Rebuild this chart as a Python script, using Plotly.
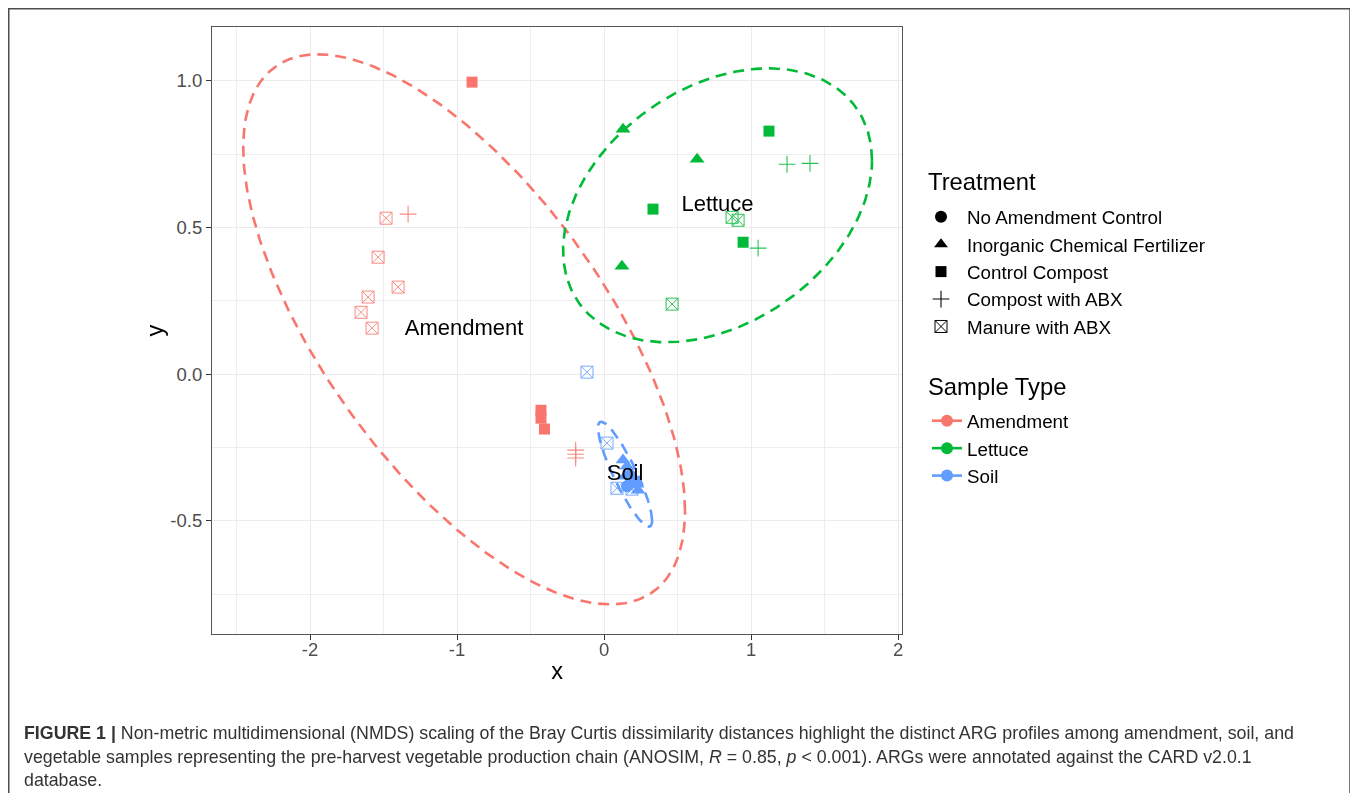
import numpy as np
import plotly.graph_objects as go

# ---------------- data ----------------
treatments = ["No Amendment Control", "Inorganic Chemical Fertilizer",
              "Control Compost", "Compost with ABX", "Manure with ABX"]
sample_types = ["Amendment", "Lettuce", "Soil"]

# Amendment samples
amend_treat = ["Control Compost", "Control Compost", "Control Compost", "Control Compost",
               "Compost with ABX", "Compost with ABX", "Compost with ABX", "Compost with ABX",
               "Manure with ABX", "Manure with ABX", "Manure with ABX",
               "Manure with ABX", "Manure with ABX", "Manure with ABX"]
amend_x = [-0.898, -0.429, -0.429, -0.405,
           -1.333, -0.193, -0.193, -0.193,
           -1.483, -1.537, -1.401, -1.605, -1.653, -1.578]
amend_y = [0.996, -0.123, -0.150, -0.187,
           0.546, -0.259, -0.273, -0.286,
           0.532, 0.399, 0.297, 0.263, 0.211, 0.157]

# Lettuce samples
lettuce_treat = ["Inorganic Chemical Fertilizer", "Inorganic Chemical Fertilizer", "Inorganic Chemical Fertilizer",
                 "Control Compost", "Control Compost", "Control Compost",
                 "Compost with ABX", "Compost with ABX", "Compost with ABX",
                 "Manure with ABX", "Manure with ABX", "Manure with ABX"]
lettuce_x = [0.129, 0.633, 0.122,
             1.122, 0.333, 0.946,
             1.245, 1.401, 1.048,
             0.871, 0.912, 0.463]
lettuce_y = [0.835, 0.733, 0.368,
             0.829, 0.563, 0.450,
             0.716, 0.719, 0.430,
             0.535, 0.525, 0.239]

# Soil samples
soil_treat = ["No Amendment Control", "No Amendment Control",
              "Inorganic Chemical Fertilizer", "Inorganic Chemical Fertilizer",
              "Inorganic Chemical Fertilizer", "Inorganic Chemical Fertilizer",
              "Inorganic Chemical Fertilizer", "Inorganic Chemical Fertilizer",
              "Inorganic Chemical Fertilizer", "Inorganic Chemical Fertilizer",
              "Manure with ABX", "Manure with ABX", "Manure with ABX", "Manure with ABX"]
soil_x = [0.184, 0.156,
          0.129, 0.156, 0.177, 0.143, 0.204, 0.224, 0.170, 0.231,
          -0.116, 0.020, 0.088, 0.190]
soil_y = [-0.361, -0.382,
          -0.293, -0.314, -0.334, -0.348, -0.355, -0.375, -0.378, -0.396,
          0.007, -0.235, -0.389, -0.392]

# 95% ellipse parameters per sample type: centre, x/y half-extent, correlation
ell_cx = [-0.952, 0.772, 0.143]
ell_cy = [0.153, 0.576, -0.341]
ell_sx = [1.503, 1.051, 0.184]
ell_sy = [0.938, 0.467, 0.179]
ell_r = [-0.661, 0.33, -0.883]

x_ticks = [-2, -1, 0, 1, 2]
x_ticktext = ["-2", "-1", "0", "1", "2"]
y_ticks = [-0.5, 0.0, 0.5, 1.0]
y_ticktext = ["-0.5", "0.0", "0.5", "1.0"]

caption_lines = [
    "<b>FIGURE 1 |</b> Non-metric multidimensional (NMDS) scaling of the Bray Curtis dissimilarity distances highlight the distinct ARG profiles among amendment, soil, and",
    "vegetable samples representing the pre-harvest vegetable production chain (ANOSIM, <i>R</i> = 0.85, <i>p</i> &lt; 0.001). ARGs were annotated against the CARD v2.0.1",
    "database.",
]

# ---------------- styling ----------------
FONT = "Liberation Sans, Arial, Helvetica, sans-serif"
colors = {"Amendment": "#F8766D", "Lettuce": "#00BA38", "Soil": "#619CFF"}
symbols = {"No Amendment Control": "circle",
           "Inorganic Chemical Fertilizer": "triangle-up",
           "Control Compost": "square",
           "Compost with ABX": "cross-thin-open",
           "Manure with ABX": "square-x-open"}
sizes = {"No Amendment Control": 12, "Inorganic Chemical Fertilizer": 13,
         "Control Compost": 11, "Compost with ABX": 12, "Manure with ABX": 12}
lwidths = {"No Amendment Control": 0, "Inorganic Chemical Fertilizer": 0,
           "Control Compost": 0, "Compost with ABX": 1.1, "Manure with ABX": 1}

OFF = 8  # page body margin
W, H = 1358 - OFF, 793 - OFF
ML, MR, MT, MB = 212 - OFF, 1358 - 902, 27 - OFF, 793 - 634
PW, PH = W - ML - MR, H - MT - MB


def sx_(px):  # screen px -> paper x
    return (px - OFF - ML) / PW


def sy_(py):  # screen px -> paper y
    return (H - MB - (py - OFF)) / PH


fig = go.Figure()

groups = [("Amendment", amend_treat, amend_x, amend_y),
          ("Lettuce", lettuce_treat, lettuce_x, lettuce_y),
          ("Soil", soil_treat, soil_x, soil_y)]

# points
for st, tr, xs, ys in groups:
    for t in treatments:
        idx = [i for i, v in enumerate(tr) if v == t]
        if not idx:
            continue
        open_sym = symbols[t].endswith("open")
        fig.add_trace(go.Scatter(
            x=[xs[i] for i in idx], y=[ys[i] for i in idx], mode="markers",
            marker=dict(symbol=symbols[t], size=sizes[t], color=colors[st],
                        line=dict(width=lwidths[t], color=colors[st])),
            opacity=0.85 if open_sym else 1.0,
            showlegend=False, hoverinfo="skip"))

# ellipses
t = np.linspace(0, 2 * np.pi, 300)
for k, st in enumerate(sample_types):
    ex = ell_cx[k] + ell_sx[k] * np.cos(t)
    ey = ell_cy[k] + ell_sy[k] * (ell_r[k] * np.cos(t) + np.sqrt(1 - ell_r[k] ** 2) * np.sin(t))
    fig.add_trace(go.Scatter(x=ex, y=ey, mode="lines",
                             line=dict(color=colors[st], width=2.6, dash="11px,7px"),
                             showlegend=False, hoverinfo="skip"))

# group labels at ellipse centres
fig.add_trace(go.Scatter(x=ell_cx, y=ell_cy, mode="text", text=sample_types,
                         textfont=dict(family=FONT, size=22, color="black"),
                         textposition="middle center", showlegend=False, hoverinfo="skip"))

# legend: Treatment
for t_ in treatments:
    fig.add_trace(go.Scatter(
        x=[None], y=[None], mode="markers", name=t_, legend="legend",
        marker=dict(symbol=symbols[t_], size=min(sizes[t_], 12), color="black",
                    line=dict(width=lwidths[t_], color="black"))))

# legend: Sample Type
for st in sample_types:
    fig.add_trace(go.Scatter(
        x=[None], y=[None], mode="lines+markers", name=st, legend="legend2",
        line=dict(color=colors[st], width=2.6),
        marker=dict(symbol="circle", size=12, color=colors[st])))

TICKFONT = dict(family=FONT, size=18.5, color="#4D4D4D")
TITLEFONT = dict(family=FONT, size=23.5, color="black")

axis_common = dict(
    showline=True, mirror=True, linecolor="#555555", linewidth=1.2,
    ticks="outside", ticklen=5, tickwidth=1, tickcolor="#333333",
    tickfont=TICKFONT,
    showgrid=True, gridcolor="#EBEBEB", gridwidth=1.3,
    zeroline=False,
)

fig.update_xaxes(range=[-2.667, 2.027], tickvals=x_ticks, ticktext=x_ticktext,
                 ticklabelstandoff=-6,
                 minor=dict(showgrid=True, gridcolor="#EEEEEE", gridwidth=0.7,
                            tickvals=[-2.5, -1.5, -0.5, 0.5, 1.5]),
                 title=dict(text="x", font=TITLEFONT, standoff=3),
                 **axis_common)
fig.update_yaxes(range=[-0.886, 1.184], tickvals=y_ticks, ticktext=y_ticktext,
                 minor=dict(showgrid=True, gridcolor="#EEEEEE", gridwidth=0.7,
                            tickvals=[-0.75, -0.25, 0.25, 0.75]),
                 title=dict(text="y", font=TITLEFONT, standoff=0),
                 **axis_common)

annotations = []
for i, line in enumerate(caption_lines):
    annotations.append(dict(
        text=line, xref="paper", yref="paper",
        x=sx_(22), y=sy_(733 + 23.5 * i),
        xanchor="left", yanchor="middle", showarrow=False, align="left",
        font=dict(family=FONT, size=17.8, color="#333333")))

# legend titles
for title, ypx in [("Treatment", 182), ("Sample Type", 386)]:
    annotations.append(dict(
        text=title, xref="paper", yref="paper", x=sx_(926), y=sy_(ypx),
        xanchor="left", yanchor="middle", showarrow=False,
        font=dict(family=FONT, size=23.8, color="black")))

LEGFONT = dict(family=FONT, size=18.8, color="black")
fig.update_layout(
    width=W, height=H,
    margin=dict(l=ML, r=MR, t=MT, b=MB, autoexpand=False),
    paper_bgcolor="white", plot_bgcolor="white",
    font=dict(family=FONT, color="black"),
    legend=dict(font=LEGFONT, x=sx_(915), y=sy_(198), xanchor="left", yanchor="top",
                bgcolor="rgba(0,0,0,0)", itemsizing="trace", tracegroupgap=0, itemwidth=42),
    legend2=dict(font=LEGFONT, x=sx_(927), y=sy_(402), xanchor="left", yanchor="top",
                 bgcolor="rgba(0,0,0,0)", itemsizing="trace", tracegroupgap=0, itemwidth=30),
    annotations=annotations,
    shapes=[dict(type="rect", xref="paper", yref="paper",
                 x0=sx_(8.75), x1=sx_(1350), y0=sy_(8.75), y1=sy_(805),
                 line=dict(color="#4D4D4D", width=1.5), fillcolor="rgba(0,0,0,0)")],
)

fig.write_html("out.html")
